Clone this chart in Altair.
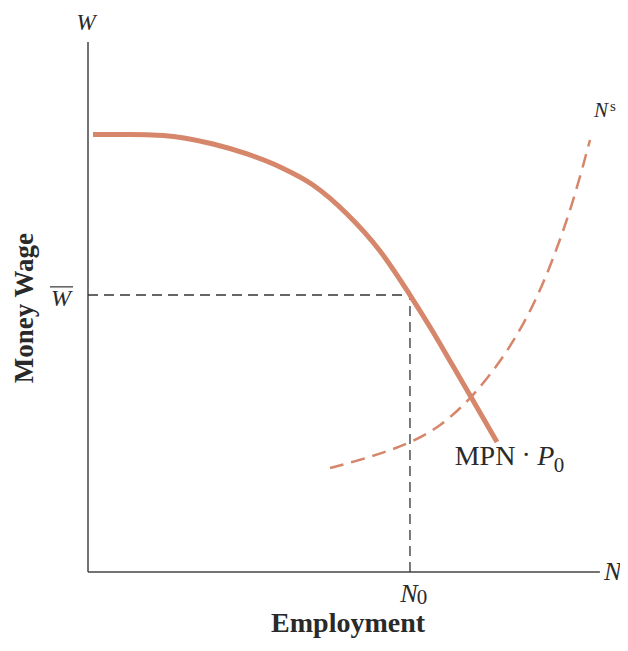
import altair as alt
import pandas as pd

# MPN * P0 (labour demand in money terms)
mpn_x = [0.97, 8.16, 14.56, 24.27, 30.87, 37.28, 43.69, 50.29, 56.70, 62.52, 66.41, 70.87, 75.15, 79.42]
mpn_y = [82.55, 82.55, 82.36, 80.75, 78.87, 76.42, 73.02, 67.55, 60.57, 52.26, 46.23, 38.87, 31.70, 24.53]

# N^s (labour supply)
ns_x = [46.99, 52.82, 57.67, 62.52, 68.35, 74.76, 81.36, 86.41, 90.29, 94.17, 97.48]
ns_y = [19.62, 21.13, 22.64, 24.34, 27.36, 33.02, 41.32, 50.0, 58.87, 69.62, 81.51]

# equilibrium
w_bar = 52.26
n0 = 62.52

SERIF = "Liberation Serif"
ORANGE = "#d6866a"
INK = "#2a2a2a"

X = alt.X("x:Q", scale=alt.Scale(domain=[0, 100], clamp=False, nice=False), axis=None)
Y = alt.Y("y:Q", scale=alt.Scale(domain=[0, 100], clamp=False, nice=False), axis=None)
SZ = alt.Size("s:Q", scale=None, legend=None)

mpn = alt.Chart(pd.DataFrame({"x": mpn_x, "y": mpn_y, "o": range(len(mpn_x))})).mark_line(
    color=ORANGE, strokeWidth=5, interpolate="monotone"
).encode(x=X, y=Y, order="o:Q")

ns = alt.Chart(pd.DataFrame({"x": ns_x, "y": ns_y, "o": range(len(ns_x))})).mark_line(
    color=ORANGE, strokeWidth=2.5, strokeDash=[14, 8], interpolate="basis"
).encode(x=X, y=Y, order="o:Q")

guides = alt.Chart(pd.DataFrame({
    "x": [0, n0], "x2": [n0, n0], "y": [w_bar, 0], "y2": [w_bar, w_bar]
})).mark_rule(color="#333333", strokeWidth=1.3, strokeDash=[10, 6]).encode(
    x=X, x2="x2:Q", y=Y, y2="y2:Q"
)

axes = alt.Chart(pd.DataFrame({
    "x": [0, 0], "x2": [0, 99.4], "y": [0, 0], "y2": [100, 0]
})).mark_rule(color="#444444", strokeWidth=1.5).encode(
    x=X, x2="x2:Q", y=Y, y2="y2:Q"
)

overline = alt.Chart(pd.DataFrame({"x": [-7.4], "x2": [-2.9], "y": [53.8]})).mark_rule(
    color="#333333", strokeWidth=1.2
).encode(x=X, x2="x2:Q", y=Y)


def label(df, **kw):
    return alt.Chart(pd.DataFrame(df)).mark_text(font=SERIF, color=INK, **kw).encode(
        x=X, y=Y, text="t:N", size=SZ
    )


italic = label({
    "x": [-0.39, 99.61, 101.9, -5.24, 62.3, 88.9],
    "y": [103.6, 86.98, 0.0, 51.51, -4.15, 21.70],
    "t": ["W", "N", "N", "W", "N", "P"],
    "s": [23, 21, 26, 24, 26, 28],
}, align="center", baseline="middle", fontStyle="italic")

upright = label({
    "x": [77.09, 85.1, 101.94, 64.85, 91.45],
    "y": [21.70, 21.9, 87.92, -4.9, 20.0],
    "t": ["MPN", "\u00b7", "s", "0", "0"],
    "s": [28, 28, 15, 21, 21],
}, align="center", baseline="middle")

xtitle = label({
    "x": [50.5],
    "y": [-11.3],
    "t": ["Employment"],
    "s": [28],
}, fontWeight="bold", align="center", baseline="alphabetic")

ytitle = label({
    "x": [-12.2],
    "y": [49.8],
    "t": ["Money Wage"],
    "s": [27],
}, fontWeight="bold", align="center", baseline="middle", angle=270)

chart = alt.layer(
    axes, guides, ns, mpn, overline, italic, upright, xtitle, ytitle
).properties(
    width=515, height=530,
    autosize=alt.AutoSizeParams(type="none"),
    padding={"left": 80, "top": 34, "right": 17, "bottom": 66},
).configure_view(stroke=None)

chart.save("out.html", embed_options={"renderer": "svg", "actions": False})
